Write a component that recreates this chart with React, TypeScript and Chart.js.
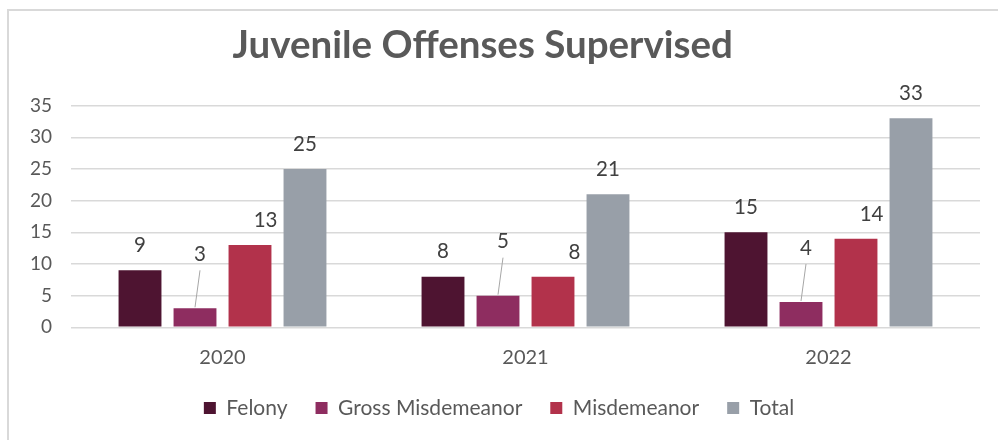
import React, { useEffect, useRef } from "react";
import { Chart, registerables } from "chart.js";

Chart.register(...registerables);

const TITLE = "Juvenile Offenses Supervised";
const categories = ["2020", "2021", "2022"];
const seriesNames = ["Felony", "Gross Misdemeanor", "Misdemeanor", "Total"];
const felony = [9, 8, 15];
const grossMisdemeanor = [3, 5, 4];
const misdemeanor = [13, 8, 14];
const total = [25, 21, 33];
const yMin = 0;
const yMax = 35;
const yStep = 5;

const FONT = "Lato, 'Open Sans', sans-serif";

type LabelStyle = { dx: number; dy: number; align: "center" | "right"; leader: boolean };

const titlePlugin = {
  id: "customTitle",
  afterDraw(chart: any) {
    const ctx = chart.ctx as CanvasRenderingContext2D;
    ctx.save();
    ctx.font = `bold 38.5px ${FONT}`;
    ctx.fillStyle = "#595959";
    ctx.textAlign = "center";
    ctx.textBaseline = "middle";
    ctx.fillText(TITLE, chart.width * 0.479, 35);
    ctx.restore();
  },
};

const labelPlugin = {
  id: "barLabels",
  afterDatasetsDraw(chart: any) {
    const ctx = chart.ctx as CanvasRenderingContext2D;
    ctx.save();
    ctx.font = `20.5px ${FONT}`;
    ctx.fillStyle = "#404040";
    ctx.textBaseline = "middle";
    chart.data.datasets.forEach((ds: any, i: number) => {
      const meta = chart.getDatasetMeta(i);
      const st: LabelStyle = ds.labelStyle;
      meta.data.forEach((bar: any, j: number) => {
        const { x, y, width } = bar.getProps(["x", "y", "width"], true);
        const v = ds.data[j];
        let tx = x + st.dx;
        if (st.align === "right") tx = x + width / 2 + st.dx;
        const ty = y + st.dy;
        if (st.leader) {
          ctx.save();
          ctx.strokeStyle = "#a6a6a6";
          ctx.lineWidth = 1;
          ctx.beginPath();
          ctx.moveTo(tx, ty + 16);
          ctx.lineTo(x, y - 1);
          ctx.stroke();
          ctx.restore();
        }
        ctx.textAlign = st.align;
        ctx.fillText(String(v), tx, ty);
      });
    });
    ctx.restore();
  },
};

export default function App() {
  const ref = useRef<HTMLCanvasElement>(null);
  useEffect(() => {
    const colors = ["#4e1431", "#8e2d60", "#b2324b", "#989fa8"];
    const values = [felony, grossMisdemeanor, misdemeanor, total];
    const styles: LabelStyle[] = [
      { dx: 0, dy: -25, align: "center", leader: false },
      { dx: 5, dy: -54, align: "center", leader: true },
      { dx: 6, dy: -24.5, align: "right", leader: false },
      { dx: 0, dy: -24.5, align: "center", leader: false },
    ];
    const chart = new Chart(ref.current!, {
      type: "bar",
      data: {
        labels: categories,
        datasets: seriesNames.map((name, i) => ({
          label: name,
          data: values[i],
          backgroundColor: colors[i],
          borderWidth: 0,
          categoryPercentage: 0.726,
          barPercentage: 0.78,
          labelStyle: styles[i],
        })) as any,
      },
      options: {
        animation: false,
        responsive: true,
        maintainAspectRatio: false,
        layout: { padding: { left: 9, right: 18, top: 94.7, bottom: 11.5 } },
        plugins: {
          title: { display: false },
          tooltip: { enabled: false },
          legend: {
            position: "bottom",
            labels: {
              boxWidth: 12,
              boxHeight: 12,
              padding: 28,
              color: "#595959",
              font: { family: FONT, size: 21 },
            },
          },
        },
        scales: {
          x: {
            grid: { display: false, drawTicks: false },
            border: { display: false },
            ticks: { color: "#595959", font: { family: FONT, size: 20 }, padding: 18 },
            afterFit: (s: any) => {
              s.height = 42.2;
            },
          },
          y: {
            min: yMin,
            max: yMax,
            grid: { color: "#d9d9d9", lineWidth: 1.5, drawTicks: false },
            border: { display: false },
            ticks: { stepSize: yStep, color: "#595959", font: { family: FONT, size: 19 }, padding: 19 },
            afterFit: (s: any) => {
              s.width = 53;
            },
          },
        },
      },
      plugins: [titlePlugin, labelPlugin],
    } as any);
    return () => chart.destroy();
  }, []);
  return (
    <div
      style={{
        position: "absolute",
        left: 7,
        top: 9,
        width: 991,
        height: 431,
        borderLeft: "2px solid #d9d9d9",
        borderTop: "2px solid #d9d9d9",
        boxSizing: "border-box",
        background: "#fff",
      }}
    >
      <div style={{ position: "absolute", left: 0, top: 0, width: 989, height: 429 }}>
        <canvas ref={ref} />
      </div>
    </div>
  );
}
